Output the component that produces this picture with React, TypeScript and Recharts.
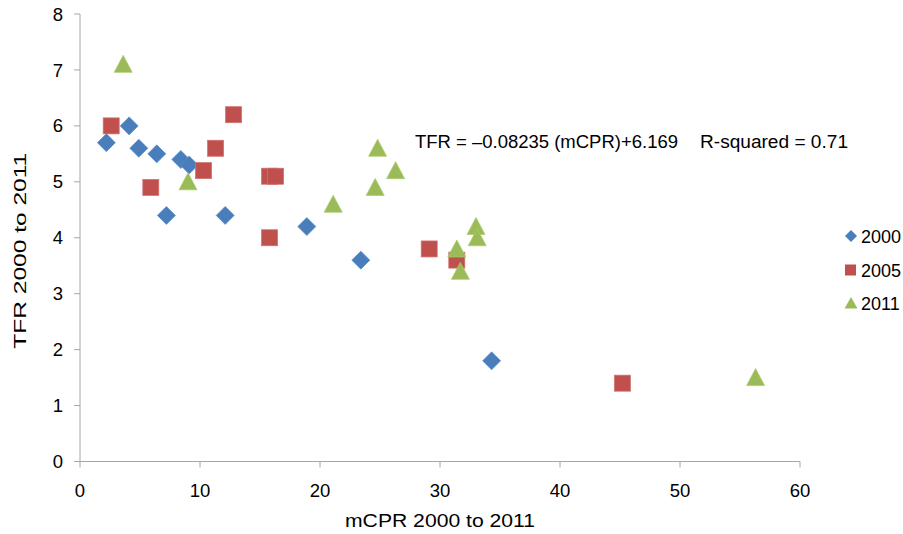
import React from "react";
import { Scatter, ScatterChart, XAxis, YAxis } from "recharts";

type Pt = { x: number; y: number };

// mCPR (x) vs TFR (y)
const s2000: Pt[] = [
  { x: 2.2, y: 5.7 },
  { x: 4.1, y: 6.0 },
  { x: 4.9, y: 5.6 },
  { x: 6.4, y: 5.5 },
  { x: 8.4, y: 5.4 },
  { x: 9.1, y: 5.3 },
  { x: 7.2, y: 4.4 },
  { x: 12.1, y: 4.4 },
  { x: 18.9, y: 4.2 },
  { x: 23.4, y: 3.6 },
  { x: 34.3, y: 1.8 },
];

const s2005: Pt[] = [
  { x: 2.6, y: 6.0 },
  { x: 5.9, y: 4.9 },
  { x: 10.3, y: 5.2 },
  { x: 11.3, y: 5.6 },
  { x: 12.8, y: 6.2 },
  { x: 15.8, y: 5.1 },
  { x: 16.3, y: 5.1 },
  { x: 15.8, y: 4.0 },
  { x: 29.1, y: 3.8 },
  { x: 31.4, y: 3.6 },
  { x: 45.2, y: 1.4 },
];

const s2011: Pt[] = [
  { x: 3.6, y: 7.1 },
  { x: 9.0, y: 5.0 },
  { x: 21.1, y: 4.6 },
  { x: 24.6, y: 4.9 },
  { x: 24.8, y: 5.6 },
  { x: 26.3, y: 5.2 },
  { x: 31.4, y: 3.8 },
  { x: 31.7, y: 3.4 },
  { x: 33.0, y: 4.2 },
  { x: 33.1, y: 4.0 },
  { x: 56.3, y: 1.5 },
];

const xTicks = [0, 10, 20, 30, 40, 50, 60];
const yTicks = [0, 1, 2, 3, 4, 5, 6, 7, 8];
const years = ["2000", "2005", "2011"];

const BLUE = "#4a7ebb";
const RED = "#c0504d";
const GREEN = "#9bbb59";
const AXIS = "#a6a6a6";
const FONT = "'Liberation Sans', Arial, sans-serif";

const Diamond = ({ cx, cy }: any) => (
  <path
    d={`M${cx},${cy - 9} L${cx + 9},${cy} L${cx},${cy + 9} L${cx - 9},${cy} Z`}
    fill={BLUE}
    stroke="#5b8fcc"
    strokeWidth={0.75}
  />
);

const Square = ({ cx, cy }: any) => (
  <rect
    x={cx - 8}
    y={cy - 8}
    width={16}
    height={16}
    fill={RED}
    stroke="#d0706d"
    strokeWidth={0.75}
  />
);

const Triangle = ({ cx, cy }: any) => (
  <path
    d={`M${cx},${cy - 9} L${cx + 9},${cy + 8} L${cx - 9},${cy + 8} Z`}
    fill={GREEN}
    stroke="#aacb6c"
    strokeWidth={0.75}
  />
);

const XTitle = ({ viewBox }: any) => (
  <text
    x={viewBox.x + viewBox.width / 2}
    y={viewBox.y + 65}
    textAnchor="middle"
    fontFamily={FONT}
    fontSize={17.5}
    textLength={190}
    lengthAdjust="spacingAndGlyphs"
    fill="#000"
  >
    mCPR 2000 to 2011
  </text>
);

const YTitle = ({ viewBox }: any) => {
  const x = 26;
  const y = viewBox.y + viewBox.height / 2 + 13;
  return (
    <text
      x={x}
      y={y}
      transform={`rotate(-90 ${x} ${y})`}
      textAnchor="middle"
      fontFamily={FONT}
      fontSize={17}
      textLength={196}
      lengthAdjust="spacingAndGlyphs"
      fill="#000"
    >
      TFR 2000 to 2011
    </text>
  );
};

export default function App() {
  return (
    <div
      style={{
        position: "absolute",
        left: 0,
        top: 0,
        width: 903,
        height: 534,
        background: "#fff",
      }}
    >
      <ScatterChart
        width={903}
        height={534}
        margin={{ top: 14, right: 103, bottom: 0, left: 0 }}
      >
        <XAxis
          type="number"
          dataKey="x"
          domain={[0, 60]}
          ticks={xTicks}
          stroke={AXIS}
          tickSize={6}
          tickMargin={16}
          height={72.5}
          tick={{ fill: "#000", fontSize: 18.5, fontFamily: FONT }}
          label={<XTitle />}
        />
        <YAxis
          type="number"
          dataKey="y"
          domain={[0, 8]}
          ticks={yTicks}
          stroke={AXIS}
          tickSize={6}
          tickMargin={11}
          width={80}
          tick={{ fill: "#000", fontSize: 18.5, fontFamily: FONT }}
          label={<YTitle />}
        />
        <Scatter
          name="2000"
          data={s2000}
          fill={BLUE}
          shape={Diamond}
          isAnimationActive={false}
        />
        <Scatter
          name="2005"
          data={s2005}
          fill={RED}
          shape={Square}
          isAnimationActive={false}
        />
        <Scatter
          name="2011"
          data={s2011}
          fill={GREEN}
          shape={Triangle}
          isAnimationActive={false}
        />
      </ScatterChart>
      <svg
        width={903}
        height={534}
        style={{ position: "absolute", left: 0, top: 0, pointerEvents: "none" }}
        fontFamily={FONT}
        fontSize={17.5}
      >
        <text x={415} y={147.5} textLength={263} lengthAdjust="spacingAndGlyphs">
          TFR = –0.08235 (mCPR)+6.169
        </text>
        <text x={700} y={147.5} textLength={148} lengthAdjust="spacingAndGlyphs">
          R-squared = 0.71
        </text>
        {/* legend */}
        <path d="M851,230 L857,236 L851,242 L845,236 Z" fill={BLUE} />
        <text x={861} y={242.5} fontSize={18}>{years[0]}</text>
        <rect x={845} y={264.5} width={11} height={11} fill={RED} />
        <text x={861} y={276.5} fontSize={18}>{years[1]}</text>
        <path d="M851,297 L857.5,308.5 L844.5,308.5 Z" fill={GREEN} />
        <text x={861} y={309.5} fontSize={18}>{years[2]}</text>
      </svg>
    </div>
  );
}
